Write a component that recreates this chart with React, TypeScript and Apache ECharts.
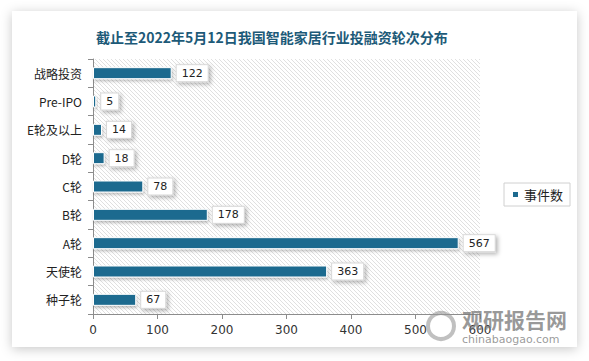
import React, { useEffect, useRef } from "react";
import * as echarts from "echarts";

const categories = ["种子轮", "天使轮", "A轮", "B轮", "C轮", "D轮", "E轮及以上", "Pre-IPO", "战略投资"];
const eventCounts = [67, 363, 567, 178, 78, 18, 14, 5, 122];
const xTicks = [0, 100, 200, 300, 400, 500, 600];
const seriesName = "事件数";
const titleText = "截止至2022年5月12日我国智能家居行业投融资轮次分布";

function makeHatch(): string {
  const s = 4;
  const c = document.createElement("canvas");
  c.width = s;
  c.height = s;
  const ctx = c.getContext("2d")!;
  ctx.fillStyle = "#ffffff";
  ctx.fillRect(0, 0, s, s);
  ctx.strokeStyle = "#e0e0e0";
  ctx.lineWidth = 1;
  ctx.beginPath();
  ctx.moveTo(-1, -1);
  ctx.lineTo(s + 1, s + 1);
  ctx.moveTo(-s - 1, -1);
  ctx.lineTo(1, s + 1);
  ctx.moveTo(s - 1, -1);
  ctx.lineTo(2 * s + 1, s + 1);
  ctx.stroke();
  return c.toDataURL();
}

export default function App() {
  const ref = useRef<HTMLDivElement>(null);
  useEffect(() => {
    if (!ref.current) return;
    const chart = echarts.init(ref.current, undefined, { renderer: "svg" });
    const hatch = makeHatch();
    chart.setOption({
      animation: false,
      backgroundColor: "#ffffff",
      title: {
        text: titleText,
        left: 91,
        top: 25,
        textStyle: {
          fontFamily: "Noto Sans CJK SC",
          fontSize: 14,
          fontWeight: "bold",
          color: "#1d5a78",
        },
      },
      graphic: [
        {
          type: "rect",
          z: -10,
          shape: { x: 12, y: 11, width: 565, height: 336 },
          style: {
            fill: "#ffffff",
            shadowBlur: 12,
            shadowColor: "rgba(0,0,0,0.22)",
            shadowOffsetX: 0,
            shadowOffsetY: 2,
          },
        },
        {
          type: "text",
          left: 462,
          top: 308,
          z: 10,
          style: {
            text: "观研报告网",
            fill: "rgba(120,120,120,0.75)",
            font: "bold 21px 'Noto Sans CJK SC'",
          },
        },
        {
          type: "text",
          left: 462,
          top: 334,
          z: 10,
          style: {
            text: "chinabaogao.com",
            fill: "rgba(120,120,120,0.75)",
            font: "11px 'DejaVu Sans'",
          },
        },
        {
          type: "circle",
          z: 10,
          shape: { cx: 441, cy: 326, r: 13 },
          style: { fill: "none", stroke: "rgba(150,150,150,0.6)", lineWidth: 4 },
        },
      ],
      legend: {
        orient: "vertical",
        left: 504,
        top: 183,
        borderColor: "#d0d0d0",
        borderWidth: 1,
        padding: [5, 7, 5, 7],
        itemWidth: 7,
        itemHeight: 7,
        itemGap: 4,
        icon: "rect",
        textStyle: { fontSize: 13, color: "#222", fontFamily: "Noto Sans CJK SC" },
        data: [seriesName],
      },
      grid: {
        left: 93,
        right: 109,
        top: 59,
        bottom: 47,
        show: true,
        borderWidth: 0,
        backgroundColor: {
          image: hatch,
          repeat: "repeat",
          imageWidth: 4,
          imageHeight: 4,
        },
      },
      xAxis: {
        type: "value",
        min: xTicks[0],
        max: xTicks[xTicks.length - 1],
        interval: 100,
        axisLine: { show: true, lineStyle: { color: "#8c8c8c" } },
        axisTick: { show: true, length: 5, lineStyle: { color: "#8c8c8c" } },
        splitLine: { show: false },
        axisLabel: { color: "#333", fontSize: 12, margin: 10, fontFamily: "DejaVu Sans" },
      },
      yAxis: {
        type: "category",
        data: categories,
        axisLine: { show: true, lineStyle: { color: "#8c8c8c" } },
        axisTick: { show: true, length: 5, lineStyle: { color: "#8c8c8c" } },
        axisLabel: { color: "#222", fontSize: 12, margin: 11, fontFamily: "Noto Sans CJK SC" },
      },
      series: [
        {
          name: seriesName,
          type: "bar",
          data: eventCounts,
          barWidth: 12,
          itemStyle: {
            color: "#1d6a8f",
            borderColor: "#ffffff",
            borderWidth: 1,
            shadowBlur: 3,
            shadowColor: "rgba(0,0,0,0.25)",
            shadowOffsetX: 1,
            shadowOffsetY: 2,
          },
          label: {
            show: true,
            position: "right",
            distance: 5,
            color: "#222",
            fontSize: 11,
            fontFamily: "DejaVu Sans",
            backgroundColor: "#ffffff",
            borderColor: "#d8d8d8",
            borderWidth: 1,
            padding: [3, 5, 2, 5],
            shadowBlur: 4,
            shadowColor: "rgba(0,0,0,0.3)",
            shadowOffsetX: 2,
            shadowOffsetY: 2,
          },
        },
      ],
    });
    return () => chart.dispose();
  }, []);
  return (
    <div
      ref={ref}
      style={{ position: "absolute", left: 0, top: 0, width: 589, height: 361 }}
    />
  );
}
